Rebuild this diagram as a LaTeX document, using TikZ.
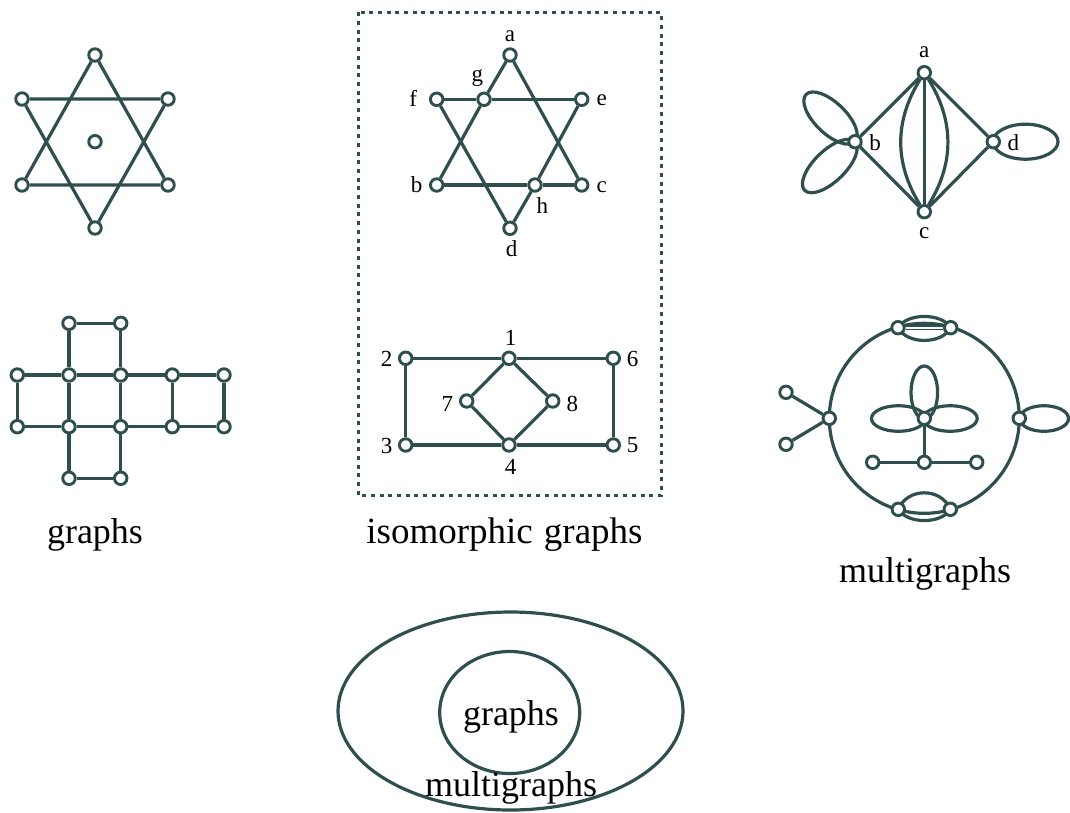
\documentclass[tikz,border=0pt]{standalone}
\usepackage{fontspec}
\setmainfont{Liberation Serif}
\usetikzlibrary{calc}
\pgfdeclarelayer{bg}
\pgfsetlayers{bg,main}
\definecolor{ink}{HTML}{2F4F4F}
\begin{document}
\begin{tikzpicture}[x=1pt,y=-1pt,
  vtx/.style={circle,draw=ink,fill=white,line width=2.9pt,inner sep=0pt,minimum size=12.5pt},
  edge/.style={draw=ink,line width=3.2pt},
  lbl/.style={font=\fontsize{23}{26}\selectfont,inner sep=0pt},
  big/.style={font=\fontsize{36}{40}\selectfont,inner sep=0pt,anchor=base},
]
\useasboundingbox (0,0) rectangle (1070,812);

% ---------- graph 1: star with isolated vertex
\node[vtx] (s1) at (95,55) {};
\node[vtx] (s2) at (22,99) {};
\node[vtx] (s3) at (168,99) {};
\node[vtx] (s4) at (22,185) {};
\node[vtx] (s5) at (168,185) {};
\node[vtx] (s6) at (95,228) {};
\node[vtx] (s7) at (95,141.7) {};
\begin{pgfonlayer}{bg}
\draw[edge] (s1) -- (s4) -- (s5) -- (s1);
\draw[edge] (s2) -- (s3) -- (s6) -- (s2);
\end{pgfonlayer}

% ---------- graph 2: labelled star
\node[vtx] (a) at (510,55) {};
\node[vtx] (f) at (436.7,99.3) {};
\node[vtx] (g) at (484,99.3) {};
\node[vtx] (e) at (581.7,99.3) {};
\node[vtx] (b) at (436.7,185) {};
\node[vtx] (h) at (535,185) {};
\node[vtx] (c) at (581.7,185) {};
\node[vtx] (d) at (510,228.3) {};
\begin{pgfonlayer}{bg}
\draw[edge] (a) -- (g); \draw[edge] (g) -- (b);
\draw[edge] (a) -- (c);
\draw[edge] (f) -- (g); \draw[edge] (g) -- (e);
\draw[edge] (f) -- (d);
\draw[edge] (e) -- (h); \draw[edge] (h) -- (d);
\draw[edge] (b) -- (h); \draw[edge] (h) -- (c);
\end{pgfonlayer}
\node[lbl] (la) at (510,36) {a};
\node[lbl] (lg) at (477.3,78.3) {g};
\node[lbl] (lf) at (413.3,98) {f};
\node[lbl] (le) at (601.7,100) {e};
\node[lbl] (lb) at (416.7,185) {b};
\node[lbl] (lc) at (601.7,187) {c};
\node[lbl] (lh) at (542.3,205.7) {h};
\node[lbl] (ld) at (511.7,248.3) {d};

% ---------- dotted frame
\draw[ink,line width=3pt,dash pattern=on 4pt off 4.7pt] (358.3,12.3) rectangle (661,495.7);

% ---------- graph 3: rectangle with diamond
\node[vtx] (n2) at (405.7,358.3) {};
\node[vtx] (n1) at (509,358.3) {};
\node[vtx] (n6) at (613.3,358.3) {};
\node[vtx] (n7) at (466.7,401) {};
\node[vtx] (n8) at (552.7,401) {};
\node[vtx] (n3) at (405.7,445) {};
\node[vtx] (n4) at (509,445) {};
\node[vtx] (n5) at (613.3,445) {};
\begin{pgfonlayer}{bg}
\draw[edge] (n2) -- (n1) -- (n6) -- (n5) -- (n4) -- (n3) -- (n2);
\draw[edge] (n1) -- (n7) -- (n4) -- (n8) -- (n1);
\end{pgfonlayer}
\node[lbl] (l1) at (510.5,338.3) {1};
\node[lbl] (l2) at (386.7,359) {2};
\node[lbl] (l6) at (632.7,359) {6};
\node[lbl] (l7) at (447.3,404) {7};
\node[lbl] (l8) at (572.3,404) {8};
\node[lbl] (l3) at (386.7,445.5) {3};
\node[lbl] (l5) at (632.7,445.5) {5};
\node[lbl] (l4) at (510.5,466.7) {4};

% ---------- graph 4: grid cross
\node[vtx] (q12) at (69,323.3) {};
\node[vtx] (q13) at (120.7,323.3) {};
\node[vtx] (q21) at (17.3,375) {};
\node[vtx] (q22) at (69,375) {};
\node[vtx] (q23) at (120.7,375) {};
\node[vtx] (q24) at (172.3,375) {};
\node[vtx] (q25) at (224,375) {};
\node[vtx] (q31) at (17.3,426.7) {};
\node[vtx] (q32) at (69,426.7) {};
\node[vtx] (q33) at (120.7,426.7) {};
\node[vtx] (q34) at (172.3,426.7) {};
\node[vtx] (q35) at (224,426.7) {};
\node[vtx] (q42) at (69,478.3) {};
\node[vtx] (q43) at (120.7,478.3) {};
\begin{pgfonlayer}{bg}
\draw[edge] (q22) -- (q12) -- (q13) -- (q23);
\draw[edge] (q21) -- (q22) -- (q23) -- (q24) -- (q25);
\draw[edge] (q31) -- (q32) -- (q33) -- (q34) -- (q35);
\draw[edge] (q21) -- (q31); \draw[edge] (q22) -- (q32);
\draw[edge] (q23) -- (q33); \draw[edge] (q24) -- (q34);
\draw[edge] (q25) -- (q35);
\draw[edge] (q32) -- (q42) -- (q43) -- (q33);
\end{pgfonlayer}

% ---------- graph 5: multigraph a b c d
\node[vtx] (ma) at (924.3,72.7) {};
\node[vtx] (mb) at (855,141.7) {};
\node[vtx] (md) at (993.3,141.7) {};
\node[vtx] (mc) at (924.3,211.7) {};
\begin{pgfonlayer}{bg}
\draw[edge] (mb) -- (ma) -- (md) -- (mc) -- (mb);
\draw[edge] (ma) -- (mc);
\draw[edge] (ma) to[bend right=32] (mc);
\draw[edge] (ma) to[bend left=32] (mc);
\draw[edge] (1025.5,141.7) ellipse [x radius=32.5, y radius=17.5];
\begin{scope}[shift={(855,141.7)},rotate=-44]
\draw[edge] (-34,0) ellipse [x radius=34, y radius=15.5];
\end{scope}
\begin{scope}[shift={(855,141.7)},rotate=44]
\draw[edge] (-35,0) ellipse [x radius=35, y radius=15.5];
\end{scope}
\end{pgfonlayer}
\node[lbl] (lma) at (924.3,52) {a};
\node[lbl] (lmb) at (875,143) {b};
\node[lbl] (lmd) at (1013.3,143) {d};
\node[lbl] (lmc) at (924.3,233.3) {c};

% ---------- graph 6: multigraph in circle
\node[vtx] (L) at (829.3,418.3) {};
\node[vtx] (R) at (1019.3,418.3) {};
\node[vtx] (T1) at (898,327.7) {};
\node[vtx] (T2) at (950.7,327.7) {};
\node[vtx] (B1) at (898.3,509.3) {};
\node[vtx] (B2) at (950.3,509.3) {};
\node[vtx] (P1) at (786,392.3) {};
\node[vtx] (P2) at (786,444.3) {};
\node[vtx] (C) at (924.3,418.3) {};
\node[vtx] (M) at (924.3,462.3) {};
\node[vtx] (H1) at (872.7,462.3) {};
\node[vtx] (H2) at (976.7,462.3) {};
\begin{pgfonlayer}{bg}
\draw[edge] (924.3,418.3) circle [radius=95];
\draw[edge] (T1.center) .. controls +(9,-15) and +(-9,-15) .. (T2.center);
\draw[edge] (T1.center) .. controls +(9,17) and +(-9,17) .. (T2.center);
\draw[ink,line width=1.4pt,double=white,double distance=2pt] (T1) -- (T2);
\draw[edge] (B1.center) .. controls +(9,-22) and +(-9,-22) .. (B2.center);
\draw[edge] (B1.center) .. controls +(9,15) and +(-9,15) .. (B2.center);
\draw[edge] (P1) -- (L) -- (P2);
\draw[edge] (1044,418.5) ellipse [x radius=24.5, y radius=12.8];
\draw[edge] (924.3,392.5) ellipse [x radius=13.3, y radius=26.5];
\draw[edge] (898.5,418.5) ellipse [x radius=27, y radius=12.8];
\draw[edge] (950.2,418.5) ellipse [x radius=27, y radius=12.8];
\draw[edge] (C) -- (M);
\draw[edge] (H1) -- (M) -- (H2);
\end{pgfonlayer}

% ---------- graph 7: nested ellipses
\draw[edge] (510.5,711) ellipse [x radius=172.5, y radius=99];
\draw[edge] (509.7,712.5) ellipse [x radius=70, y radius=61];
\node[big] (tin) at (511,725) {graphs};
\node[big] (tout) at (511,796.7) {multigraphs};

% ---------- captions
\node[big] (cap1) at (95,543) {graphs};
\node[big,font=\fontsize{37}{40}\selectfont] (cap2) at (504.5,543) {isomorphic\hspace{0.3em}graphs};
\node[big] (cap3) at (925,582) {multigraphs};
\end{tikzpicture}
\end{document}
